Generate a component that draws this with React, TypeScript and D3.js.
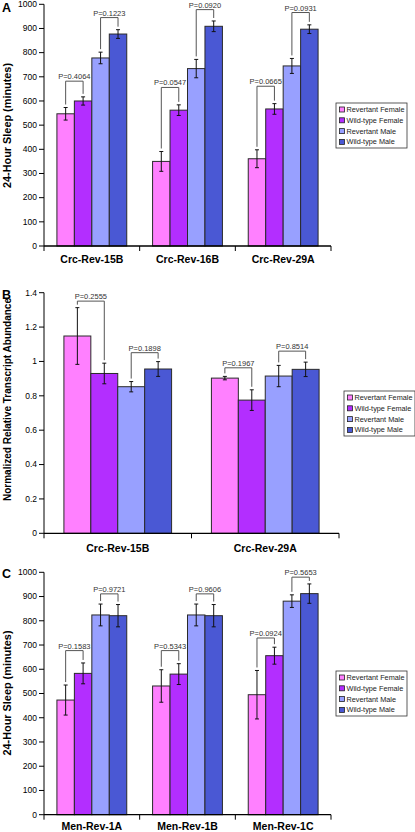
import React from "react";
import * as d3 from "d3";

const seriesNames = ["Revertant Female", "Wild-type Female", "Revertant Male", "Wild-type Male"];
const seriesColors = ["#FF80FF", "#B32EFF", "#98A0FF", "#4A58D4"];

// Panel A
const catsA = ["Crc-Rev-15B", "Crc-Rev-16B", "Crc-Rev-29A"];
const meansA = [[547, 600, 778, 877], [350, 562, 734, 909], [361, 567, 745, 897]];
const errsA = [[26, 17, 24, 18], [41, 22, 38, 22], [37, 22, 31, 18]];
const pLabelsA = [["P=0.4064", "P=0.1223"], ["P=0.0547", "P=0.0920"], ["P=0.0665", "P=0.0931"]];
const pHeightsA = [[682, 945], [656, 978], [661, 966]];
const yTicksA = [0, 100, 200, 300, 400, 500, 600, 700, 800, 900, 1000];
const yTickLabelsA = ["0", "100", "200", "300", "400", "500", "600", "700", "800", "900", "1000"];

// Panel B
const catsB = ["Crc-Rev-15B", "Crc-Rev-29A"];
const meansB = [[1.148, 0.93, 0.853, 0.956], [0.903, 0.775, 0.915, 0.954]];
const errsB = [[0.165, 0.06, 0.03, 0.043], [0.01, 0.06, 0.062, 0.042]];
const pLabelsB = [["P=0.2555", "P=0.1898"], ["P=0.1967", "P=0.8514"]];
const pHeightsB = [[1.351, 1.051], [0.963, 1.06]];
const yTicksB = [0, 0.2, 0.4, 0.6, 0.8, 1.0, 1.2, 1.4];
const yTickLabelsB = ["0", "0.2", "0.4", "0.6", "0.8", "1", "1.2", "1.4"];

// Panel C
const catsC = ["Men-Rev-1A", "Men-Rev-1B", "Men-Rev-1C"];
const meansC = [[473, 583, 824, 821], [531, 580, 824, 821], [495, 656, 881, 912]];
const errsC = [[62, 43, 45, 46], [67, 43, 45, 46], [100, 35, 26, 40]];
const pLabelsC = [["P=0.1583", "P=0.9721"], ["P=0.5343", "P=0.9606"], ["P=0.0924", "P=0.5653"]];
const pHeightsC = [[677, 911], [677, 911], [729, 980]];

const FONT = "'Liberation Sans', Arial, sans-serif";

type PanelProps = {
  letter: string;
  letterY: number;
  title: string;
  titleLen: number;
  titleCenter: number;
  cats: string[];
  means: number[][];
  errs: number[][];
  pLabels: string[][];
  pHeights: number[][];
  yTicks: number[];
  yTickLabels: string[];
  yMax: number;
  top: number;
  bottom: number;
  left: number;
  right: number;
  catLabelY: number;
  legendX: number;
  legendY: number;
};

function Panel(p: PanelProps) {
  const y = d3.scaleLinear().domain([0, p.yMax]).range([p.bottom, p.top]);
  const x0 = d3.scaleBand<string>().domain(p.cats).range([p.left, p.right]).paddingInner(0).paddingOuter(0);
  const bw = x0.bandwidth();
  const x1 = d3
    .scaleBand<string>()
    .domain(seriesNames)
    .range([bw * 0.135, bw * 0.865])
    .padding(0);
  const barW = x1.bandwidth();
  const boundaries = [...p.cats.map((c) => x0(c) as number), p.right];

  return (
    <g>
      <text x={2} y={p.letterY} fontFamily={FONT} fontWeight="bold" fontSize={12.5} fill="#000">
        {p.letter}
      </text>
      <text
        transform={`translate(11,${p.titleCenter}) rotate(-90)`}
        textAnchor="middle"
        fontFamily={FONT}
        fontWeight="bold"
        fontSize={10.5}
        textLength={p.titleLen}
        lengthAdjust="spacingAndGlyphs"
        fill="#000"
      >
        {p.title}
      </text>
      {/* bars */}
      {p.cats.map((c, ci) =>
        seriesNames.map((s, si) => {
          const bx = (x0(c) as number) + (x1(s) as number);
          const v = p.means[ci][si];
          return (
            <rect
              key={`${c}-${s}`}
              x={bx}
              y={y(v)}
              width={barW}
              height={p.bottom - y(v)}
              fill={seriesColors[si]}
              stroke="#2a2a2a"
              strokeWidth={1}
            />
          );
        })
      )}
      {/* error bars */}
      {p.cats.map((c, ci) =>
        seriesNames.map((s, si) => {
          const cx = (x0(c) as number) + (x1(s) as number) + barW / 2;
          const v = p.means[ci][si];
          const e = p.errs[ci][si];
          return (
            <g key={`e-${c}-${s}`} stroke="#111" strokeWidth={1}>
              <line x1={cx} x2={cx} y1={y(v + e)} y2={y(v - e)} />
              <line x1={cx - 2} x2={cx + 2} y1={y(v + e)} y2={y(v + e)} />
              <line x1={cx - 2} x2={cx + 2} y1={y(v - e)} y2={y(v - e)} />
            </g>
          );
        })
      )}
      {/* brackets */}
      {p.cats.map((c, ci) =>
        [0, 1].map((bi) => {
          const sa = bi * 2;
          const sb = bi * 2 + 1;
          const xa = (x0(c) as number) + (x1(seriesNames[sa]) as number) + barW / 2;
          const xb = (x0(c) as number) + (x1(seriesNames[sb]) as number) + barW / 2;
          const ty = y(p.pHeights[ci][bi]);
          const ya = y(p.means[ci][sa] + p.errs[ci][sa]) - 3;
          const yb = y(p.means[ci][sb] + p.errs[ci][sb]) - 3;
          return (
            <g key={`b-${c}-${bi}`}>
              <path
                d={`M${xa},${ya}V${ty}H${xb}V${yb}`}
                fill="none"
                stroke="#555"
                strokeWidth={1}
              />
              <text
                x={(xa + xb) / 2}
                y={ty - 2}
                textAnchor="middle"
                fontFamily={FONT}
                fontSize={7.5}
                fill="#333"
              >
                {p.pLabels[ci][bi]}
              </text>
            </g>
          );
        })
      )}
      {/* y axis */}
      <line x1={p.left} x2={p.left} y1={p.top} y2={p.bottom} stroke="#000" strokeWidth={1} />
      {p.yTicks.map((t, i) => (
        <g key={`yt-${i}`}>
          <line x1={p.left - 5} x2={p.left} y1={y(t)} y2={y(t)} stroke="#000" strokeWidth={1} />
          <text
            x={p.left - 7}
            y={y(t)}
            dy="0.33em"
            textAnchor="end"
            fontFamily={FONT}
            fontSize={8.5}
            fill="#000"
          >
            {p.yTickLabels[i]}
          </text>
        </g>
      ))}
      {/* x axis */}
      <line x1={p.left} x2={p.right} y1={p.bottom} y2={p.bottom} stroke="#000" strokeWidth={1.3} />
      {boundaries.map((bx, i) => (
        <line key={`xt-${i}`} x1={bx} x2={bx} y1={p.bottom} y2={p.bottom + 5} stroke="#000" strokeWidth={1} />
      ))}
      {p.cats.map((c) => (
        <text
          key={`cl-${c}`}
          x={(x0(c) as number) + bw / 2}
          y={p.catLabelY}
          textAnchor="middle"
          fontFamily={FONT}
          fontWeight="bold"
          fontSize={10.5}
          fill="#000"
        >
          {c}
        </text>
      ))}
      {/* legend */}
      <g transform={`translate(${p.legendX},${p.legendY})`}>
        <rect x={0} y={0} width={71} height={45} fill="#fff" stroke="#333" strokeWidth={0.8} />
        {seriesNames.map((s, i) => (
          <g key={`lg-${s}`} transform={`translate(0,${6.5 + i * 10.8})`}>
            <rect x={3.5} y={-2.5} width={5} height={5} fill={seriesColors[i]} stroke="#222" strokeWidth={0.8} />
            <text x={10.5} y={0} dy="0.34em" fontFamily={FONT} fontSize={7.3} fill="#222">
              {s}
            </text>
          </g>
        ))}
      </g>
    </g>
  );
}

export default function App() {
  return (
    <svg
      width={415}
      height={832}
      style={{ position: "absolute", left: 0, top: 0, background: "#fff" }}
    >
      <rect x={0} y={0} width={415} height={832} fill="#fff" />
      <Panel
        letter="A"
        letterY={12}
        title="24-Hour Sleep (minutes)"
        titleLen={125}
        titleCenter={125.5}
        cats={catsA}
        means={meansA}
        errs={errsA}
        pLabels={pLabelsA}
        pHeights={pHeightsA}
        yTicks={yTicksA}
        yTickLabels={yTickLabelsA}
        yMax={1000}
        top={4.3}
        bottom={246}
        left={44}
        right={331}
        catLabelY={263}
        legendX={336}
        legendY={103}
      />
      <Panel
        letter="B"
        letterY={298.5}
        title="Normalized Relative Transcript Abundance"
        titleLen={203}
        titleCenter={399.5}
        cats={catsB}
        means={meansB}
        errs={errsB}
        pLabels={pLabelsB}
        pHeights={pHeightsB}
        yTicks={yTicksB}
        yTickLabels={yTickLabelsB}
        yMax={1.4}
        top={292.7}
        bottom={533.3}
        left={44}
        right={339}
        catLabelY={552}
        legendX={344}
        legendY={391}
      />
      <Panel
        letter="C"
        letterY={577.5}
        title="24-Hour Sleep (minutes)"
        titleLen={125}
        titleCenter={693}
        cats={catsC}
        means={meansC}
        errs={errsC}
        pLabels={pLabelsC}
        pHeights={pHeightsC}
        yTicks={yTicksA}
        yTickLabels={yTickLabelsA}
        yMax={1000}
        top={572.3}
        bottom={814.7}
        left={44}
        right={331}
        catLabelY={830}
        legendX={336}
        legendY={671}
      />
    </svg>
  );
}
